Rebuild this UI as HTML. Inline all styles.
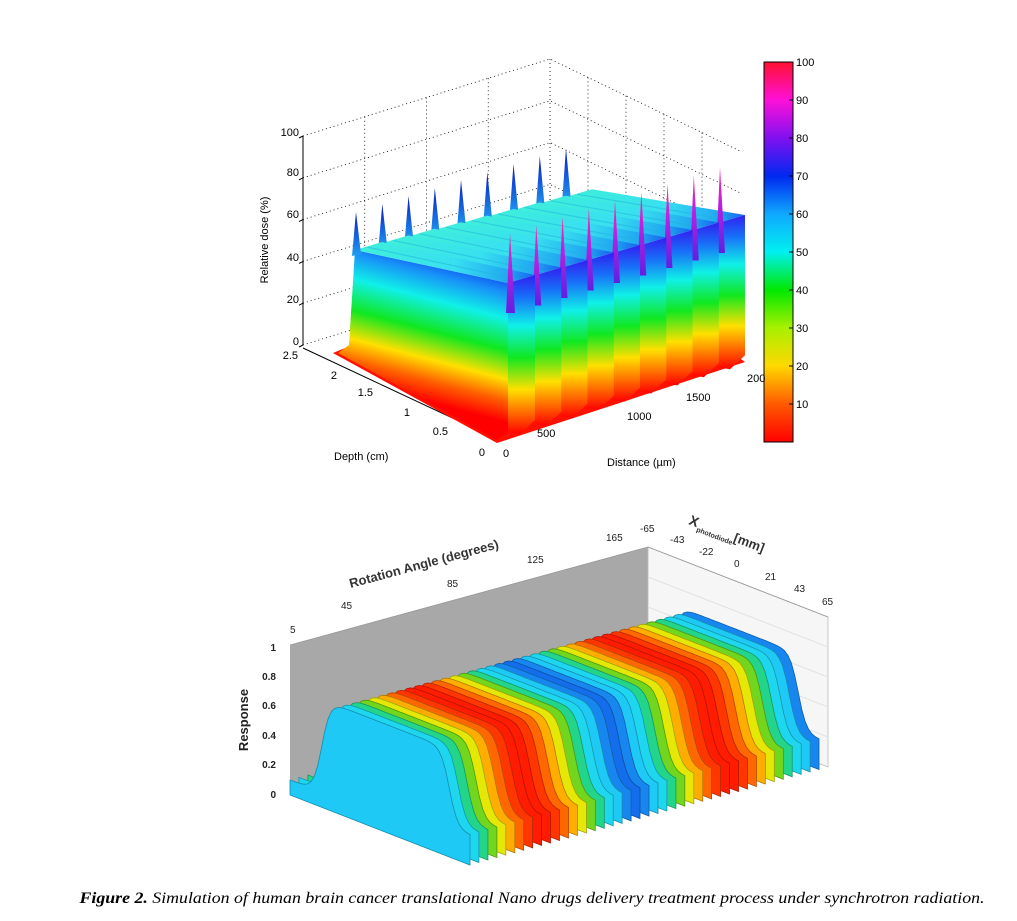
<!DOCTYPE html>
<html><head><meta charset="utf-8"><style>
html,body{margin:0;padding:0;background:#fff;}
svg{display:block;}
.sans{font-family:"Liberation Sans",sans-serif;}
</style></head><body>
<svg id="s" width="1017" height="921" viewBox="0 0 1017 921" xmlns="http://www.w3.org/2000/svg">
<defs>
<linearGradient id="cb" x1="0" y1="1" x2="0" y2="0">
<stop offset="0" stop-color="#ff0000"/><stop offset="0.1" stop-color="#ff5a00"/><stop offset="0.2" stop-color="#ffd800"/><stop offset="0.3" stop-color="#a8f000"/><stop offset="0.4" stop-color="#00e800"/><stop offset="0.5" stop-color="#00f0f0"/><stop offset="0.6" stop-color="#10a8ff"/><stop offset="0.7" stop-color="#0028f0"/><stop offset="0.8" stop-color="#8010f0"/><stop offset="0.9" stop-color="#ff10d8"/><stop offset="1" stop-color="#ff1030"/>
</linearGradient>
<linearGradient id="side" gradientUnits="userSpaceOnUse" x1="420" y1="400" x2="455" y2="265">
<stop offset="0" stop-color="#ff0000"/><stop offset="0.15" stop-color="#ff6000"/><stop offset="0.3" stop-color="#ffe000"/><stop offset="0.5" stop-color="#10e820"/><stop offset="0.72" stop-color="#10f0e8"/><stop offset="0.9" stop-color="#1890f8"/><stop offset="1" stop-color="#1050f0"/>
</linearGradient>
<linearGradient id="front" x1="0" y1="1" x2="0" y2="0">
<stop offset="0" stop-color="#ff0000"/><stop offset="0.12" stop-color="#ff6000"/><stop offset="0.28" stop-color="#ffe000"/><stop offset="0.48" stop-color="#10e820"/><stop offset="0.68" stop-color="#10f0e8"/><stop offset="0.86" stop-color="#1870f8"/><stop offset="1" stop-color="#3020f0"/>
</linearGradient>
<linearGradient id="top" x1="0" y1="0" x2="1" y2="0">
<stop offset="0" stop-color="#40f0d8"/><stop offset="0.55" stop-color="#38e0f0"/><stop offset="0.85" stop-color="#20a8f0"/><stop offset="1" stop-color="#1860f0"/>
</linearGradient>
<linearGradient id="bp" x1="0" y1="1" x2="0" y2="0">
<stop offset="0" stop-color="#20a0f0"/><stop offset="1" stop-color="#0818c8"/>
</linearGradient>
<linearGradient id="fp" x1="0" y1="1" x2="0" y2="0">
<stop offset="0" stop-color="#6020e0"/><stop offset="0.6" stop-color="#c020e0"/><stop offset="1" stop-color="#ff30a0"/>
</linearGradient>
</defs>
<g id="top3d"></g>
<g id="bot3d"></g>
<rect x="764" y="62" width="29" height="380" fill="url(#cb)" stroke="#000" stroke-width="1"/>
<g class="sans" font-size="11" fill="#000">
<text x="796" y="66">100</text><text x="796" y="104">90</text><text x="796" y="142">80</text><text x="796" y="180">70</text><text x="796" y="218">60</text><text x="796" y="256">50</text><text x="796" y="294">40</text><text x="796" y="332">30</text><text x="796" y="370">20</text><text x="796" y="408">10</text>
</g>
<g stroke="#000" stroke-width="1">
<line x1="789" y1="100" x2="793" y2="100"/><line x1="789" y1="138" x2="793" y2="138"/><line x1="789" y1="176" x2="793" y2="176"/><line x1="789" y1="214" x2="793" y2="214"/><line x1="789" y1="252" x2="793" y2="252"/><line x1="789" y1="290" x2="793" y2="290"/><line x1="789" y1="328" x2="793" y2="328"/><line x1="789" y1="366" x2="793" y2="366"/><line x1="789" y1="404" x2="793" y2="404"/>
</g>
<g class="sans" font-size="11" fill="#000">
<text x="299" y="136" text-anchor="end">100</text><text x="299" y="176" text-anchor="end">80</text><text x="299" y="218" text-anchor="end">60</text><text x="299" y="261" text-anchor="end">40</text><text x="299" y="303" text-anchor="end">20</text><text x="299" y="345" text-anchor="end">0</text>
<text transform="translate(268,240) rotate(-90)" text-anchor="middle">Relative dose (%)</text>
<text x="298" y="359" text-anchor="end">2.5</text><text x="337" y="379" text-anchor="end">2</text><text x="373" y="396" text-anchor="end">1.5</text><text x="410" y="416" text-anchor="end">1</text><text x="448" y="435" text-anchor="end">0.5</text><text x="485" y="456" text-anchor="end">0</text>
<text x="334" y="460">Depth (cm)</text>
<text x="503" y="457">0</text><text x="537" y="437">500</text><text x="627" y="420">1000</text><text x="686" y="401">1500</text><text x="747" y="382">200</text>
<text x="607" y="466">Distance (µm)</text>
</g>
<g class="sans" font-size="10" font-weight="bold" fill="#222">
<text x="276" y="651" text-anchor="end">1</text><text x="276" y="680" text-anchor="end">0.8</text><text x="276" y="709" text-anchor="end">0.6</text><text x="276" y="739" text-anchor="end">0.4</text><text x="276" y="768" text-anchor="end">0.2</text><text x="276" y="798" text-anchor="end">0</text>
</g>
<text class="sans" transform="translate(248,720) rotate(-90)" text-anchor="middle" font-size="13" font-weight="bold" fill="#222">Response</text>
<g class="sans" font-size="10" fill="#222">
<text x="290" y="633">5</text><text x="341" y="609">45</text><text x="447" y="587">85</text><text x="527" y="563">125</text><text x="606" y="541">165</text>
<text x="640" y="532">-65</text><text x="670" y="543">-43</text><text x="699" y="555">-22</text><text x="734" y="567">0</text><text x="765" y="580">21</text><text x="794" y="592">43</text><text x="822" y="605">65</text>
</g>
<text class="sans" transform="translate(425,568) rotate(-15)" text-anchor="middle" font-size="13" font-weight="bold" fill="#333">Rotation  Angle (degrees)</text>
<g class="sans" transform="translate(688,524) rotate(21)" fill="#333" font-weight="bold"><text font-size="14" x="0" y="0">X</text><text font-size="7" x="10" y="4">photodiode</text><text font-size="13" x="48" y="0">[mm]</text></g>
<text x="532" y="903" text-anchor="middle" style="font-family:'Liberation Serif',serif;font-style:italic;font-size:16px" fill="#000" textLength="905" lengthAdjust="spacingAndGlyphs"><tspan font-weight="bold">Figure 2.</tspan> Simulation of human brain cancer translational Nano drugs delivery treatment process under synchrotron radiation.</text>
</svg>
<script>
(function(){
var T=document.getElementById('top3d'),B=document.getElementById('bot3d');
function pts(a){return a.map(function(p){return p[0].toFixed(1)+','+p[1].toFixed(1)}).join(' ');}
var h='';
function P(d,x,z){return [493-76*d+0.1235*x, 437-36.8*d-0.0385*x-2.09*z];}
var dot='stroke="#000" stroke-width="0.8" stroke-dasharray="1,3" fill="none"';
for(var z=0;z<=100;z+=20){var a=P(2.5,0,z),b=P(2.5,2000,z),c=P(0,2000,z);
 h+='<polyline points="'+pts([a,b,c])+'" '+dot+'/>';}
[500,1000,1500,2000].forEach(function(x){var a=P(2.5,x,0),b=P(2.5,x,100);h+='<line x1="'+a[0]+'" y1="'+a[1]+'" x2="'+b[0]+'" y2="'+b[1]+'" '+dot+'/>';});
[0.5,1,1.5,2].forEach(function(d){var a=P(d,2000,0),b=P(d,2000,100);h+='<line x1="'+a[0]+'" y1="'+a[1]+'" x2="'+b[0]+'" y2="'+b[1]+'" '+dot+'/>';});
var a0=P(2.5,0,0),a1=P(2.5,0,100),o=P(0,0,0),e=P(0,2000,0);
h+='<line x1="'+a0[0]+'" y1="'+a0[1]+'" x2="'+a1[0]+'" y2="'+a1[1]+'" stroke="#000"/>';
h+='<polyline points="'+pts([[a0[0],a0[1]+3],o,e])+'" stroke="#000" fill="none"/>';
for(var z=0;z<=100;z+=20){var p=P(2.5,0,z);h+='<line x1="'+p[0]+'" y1="'+p[1]+'" x2="'+(p[0]-4)+'" y2="'+(p[1]+2)+'" stroke="#000"/>';}
h+='<polygon points="333,353 350,346 500,428 738,357 745,362 497,443" fill="#ff1000"/>';
for(var k=8;k>=0;k--){
 var dx=26.25*k;
 var bt=[355+dx,250-6.6*k], ft=[508+dx,283-7.5*k], fb=[508+dx,432-8.1*k];
 var w=[27,-8];
 function ad(p){return [p[0]+w[0],p[1]+w[1]];}
 if(k==0) h+='<polygon points="'+pts([[338,353],[349,345],bt,ft,fb,[497,440]])+'" fill="url(#side)"/>';
 h+='<polygon points="'+pts([bt,ft,ad(ft),ad(bt)])+'" fill="url(#top)"/>';
 h+='<line x1="'+(bt[0]+12)+'" y1="'+(bt[1]-3)+'" x2="'+(ft[0]+12)+'" y2="'+(ft[1]-3)+'" stroke="#20b0e0" stroke-width="1.2" opacity="0.5"/>';
 h+='<polygon points="'+pts([ft,ad(ft),[ad(fb)[0],ad(fb)[1]-4],[fb[0]+12,fb[1]+2],fb])+'" fill="url(#front)"/>';
 h+='<polygon points="'+pts([[bt[0]-3,bt[1]+6],[bt[0]+1,212-8*k],[bt[0]+6,bt[1]+4]])+'" fill="url(#bp)"/>';
 h+='<polygon points="'+pts([[ft[0]-2,ft[1]+30],[ft[0]+2,233-8.25*k],[ft[0]+7,ft[1]+30]])+'" fill="url(#fp)"/>';
}
T.innerHTML=h;
function Q(a,x,r){var ta=(a-5)/160,tx=(x+65)/130;return [290+358*ta+180*tx, 795-98*ta+70*tx-150*r];}
var g='';
g+='<polygon points="'+pts([Q(5,-65,0),Q(5,-65,1),Q(165,-65,1),Q(165,-65,0)])+'" fill="#a8a8a8"/>';
g+='<polygon points="'+pts([Q(165,-65,0),Q(165,-65,1),Q(165,65,1),Q(165,65,0)])+'" fill="#f6f6f6" stroke="#bbb" stroke-width="0.8"/>';
for(var r=0.2;r<1;r+=0.2){var p1=Q(165,-65,r),p2=Q(165,65,r);g+='<line x1="'+p1[0]+'" y1="'+p1[1]+'" x2="'+p2[0]+'" y2="'+p2[1]+'" stroke="#e2e2e2"/>';}
var e1=Q(5,-65,1),e2=Q(165,-65,1),e3=Q(165,65,1);
g+='<polyline points="'+pts([e1,e2,e3])+'" stroke="#999" fill="none" stroke-width="0.8"/>';
function s(v){return 1/(1+Math.exp(-v));}
function prof(x){return 0.1+0.62*s((x+42)/3)*s((50-x)/3)+0.1*s((x-50)/3);}
var cs=[[0,[16,80,225]],[0.15,[20,110,235]],[0.22,[30,200,245]],[0.37,[30,225,235]],[0.47,[40,200,40]],[0.6,[170,225,20]],[0.7,[255,235,0]],[0.82,[255,150,0]],[1,[255,25,0]]];
function jet(t){for(var i=1;i<cs.length;i++){if(t<=cs[i][0]){var f=(t-cs[i-1][0])/(cs[i][0]-cs[i-1][0]);return cs[i-1][1].map(function(v,j){return Math.round(v+(cs[i][1][j]-v)*f)});}}return cs[cs.length-1][1];}
var N=40;
for(var i=N-1;i>=0;i--){
 var a=5+160*i/N;
 var t=0.575+0.425*Math.cos(2*Math.PI*(i-8.5)/21);
 var c=jet(t),dk=c.map(function(v){return Math.round(v*0.7)});
 var arr=[Q(a,-65,0)];
 for(var x=-65;x<=65.01;x+=2.5)arr.push(Q(a,x,prof(x)));
 arr.push(Q(a,65,0));
 g+='<polygon points="'+pts(arr)+'" fill="rgb('+c.join(',')+')" stroke="rgb('+dk.join(',')+')" stroke-width="0.8"/>';
}
B.innerHTML=g;
})();
</script>
</body></html>
